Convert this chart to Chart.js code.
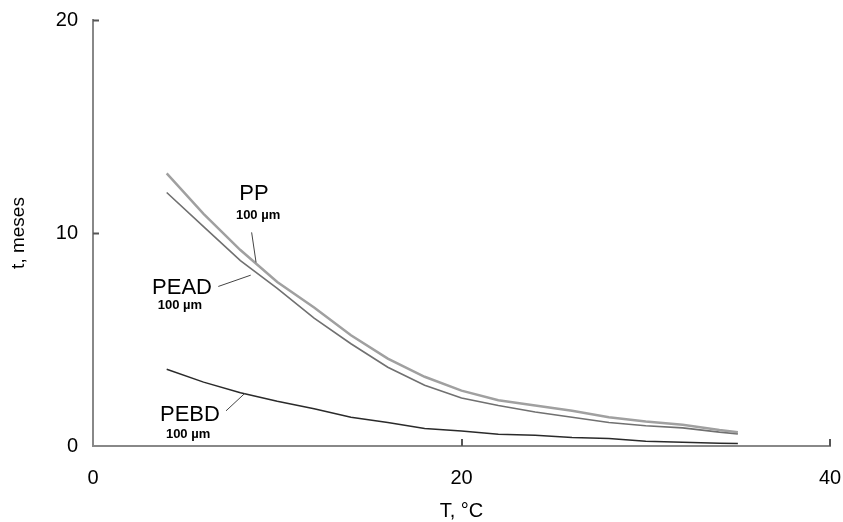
<!DOCTYPE html>
<html>
<head>
<meta charset="utf-8">
<script src="https://cdn.jsdelivr.net/npm/chart.js@4.4.1/dist/chart.umd.min.js"></script>
<style>
  body { margin: 0; background: #fff; }
  #wrap { width: 843px; height: 522px; }
</style>
</head>
<body>
<div id="wrap"><canvas id="chart" width="843" height="522"></canvas></div>
<script>
// temperature (°C)
const temps = [4, 6, 8, 10, 12, 14, 16, 18, 20, 22, 24, 26, 28, 30, 32, 34, 35];
// time in months for each film
const ppValues = [12.8, 10.9, 9.2, 7.7, 6.5, 5.2, 4.1, 3.25, 2.6, 2.15, 1.9, 1.65, 1.35, 1.15, 1.0, 0.75, 0.65];
const peadValues = [11.9, 10.3, 8.7, 7.4, 6.0, 4.8, 3.7, 2.85, 2.25, 1.9, 1.6, 1.35, 1.1, 0.95, 0.85, 0.65, 0.57];
const pebdValues = [3.6, 3.0, 2.5, 2.1, 1.75, 1.35, 1.1, 0.82, 0.7, 0.55, 0.5, 0.4, 0.35, 0.22, 0.18, 0.13, 0.12];
const xTicks = [0, 20, 40];
const yTicks = [0, 10, 20];

const toPoints = (vals) => temps.map((t, i) => ({ x: t, y: vals[i] }));

// labels with leader lines, in data coords
const labels = [
  { name: "PP", at: [8.74, 11.85], sub: [8.96, 10.81], line: [[8.61, 10.03], [8.85, 8.62]] },
  { name: "PEAD", at: [4.83, 7.43], sub: [4.72, 6.58], line: [[6.8, 7.49], [8.56, 8.02]] },
  { name: "PEBD", at: [5.26, 1.46], sub: [5.16, 0.53], line: [[7.22, 1.65], [8.25, 2.48]] },
];

const annotate = {
  id: "annotate",
  afterDraw(chart) {
    const ctx = chart.ctx;
    const xs = chart.scales.x, ys = chart.scales.y;
    const px = (p) => [xs.getPixelForValue(p[0]), ys.getPixelForValue(p[1])];
    ctx.save();
    // inward tick marks
    ctx.strokeStyle = "#555";
    ctx.lineWidth = 2;
    yTicks.slice(1).forEach((v) => {
      const y = Math.round(ys.getPixelForValue(v)) + 0.5;
      ctx.beginPath();
      ctx.moveTo(xs.left, y);
      ctx.lineTo(xs.left + 6, y);
      ctx.stroke();
    });
    xTicks.slice(1).forEach((v) => {
      const x = Math.round(xs.getPixelForValue(v));
      ctx.beginPath();
      ctx.moveTo(x, ys.bottom);
      ctx.lineTo(x, ys.bottom - 7);
      ctx.stroke();
    });
    // labels
    ctx.fillStyle = "#000";
    ctx.textAlign = "center";
    ctx.textBaseline = "middle";
    labels.forEach((l) => {
      let p = px(l.at);
      ctx.font = "22px 'Liberation Sans', Arial, sans-serif";
      ctx.fillText(l.name, p[0], p[1]);
      p = px(l.sub);
      ctx.font = "bold 13px 'Liberation Sans', Arial, sans-serif";
      ctx.fillText("100 µm", p[0], p[1]);
      const a = px(l.line[0]), b = px(l.line[1]);
      ctx.strokeStyle = "#444";
      ctx.lineWidth = 1;
      ctx.beginPath();
      ctx.moveTo(a[0], a[1]);
      ctx.lineTo(b[0], b[1]);
      ctx.stroke();
    });
    ctx.restore();
  },
};

const font = { family: "'Liberation Sans', Arial, sans-serif", size: 20 };

new Chart(document.getElementById("chart"), {
  type: "line",
  data: {
    datasets: [
      { label: "PP", data: toPoints(ppValues), borderColor: "#a0a0a0", borderWidth: 2.5 },
      { label: "PEAD", data: toPoints(peadValues), borderColor: "#707070", borderWidth: 1.6 },
      { label: "PEBD", data: toPoints(pebdValues), borderColor: "#2a2a2a", borderWidth: 1.5 },
    ],
  },
  options: {
    responsive: false,
    animation: false,
    devicePixelRatio: 1,
    layout: { padding: { left: 0, top: 20, right: 13, bottom: 0 } },
    elements: { point: { radius: 0 }, line: { tension: 0 } },
    plugins: { legend: { display: false }, tooltip: { enabled: false } },
    scales: {
      x: {
        type: "linear",
        min: 0,
        max: 40,
        afterBuildTicks: (s) => { s.ticks = xTicks.map((v) => ({ value: v })); },
        ticks: { color: "#000", font: font, padding: 20, maxRotation: 0 },
        grid: { display: false, drawTicks: false },
        border: { color: "#888", width: 2 },
        title: { display: true, text: "T, °C", color: "#000", font: { ...font, lineHeight: 1 }, padding: { top: 0, bottom: 1 } },
        afterFit: (s) => { s.height = 76; s.paddingLeft = 0; s.paddingRight = 0; },
      },
      y: {
        min: 0,
        max: 20,
        afterBuildTicks: (s) => { s.ticks = yTicks.map((v) => ({ value: v })); },
        ticks: { color: "#000", font: font, padding: 15 },
        grid: { display: false, drawTicks: false },
        border: { color: "#888", width: 2 },
        title: { display: true, text: "t, meses", color: "#000", font: { ...font, size: 19, lineHeight: 1 }, padding: { top: 9, bottom: 0 } },
        afterFit: (s) => { s.width = 93; s.paddingTop = 0; s.paddingBottom = 0; },
      },
    },
  },
  plugins: [annotate],
});
</script>
</body>
</html>
